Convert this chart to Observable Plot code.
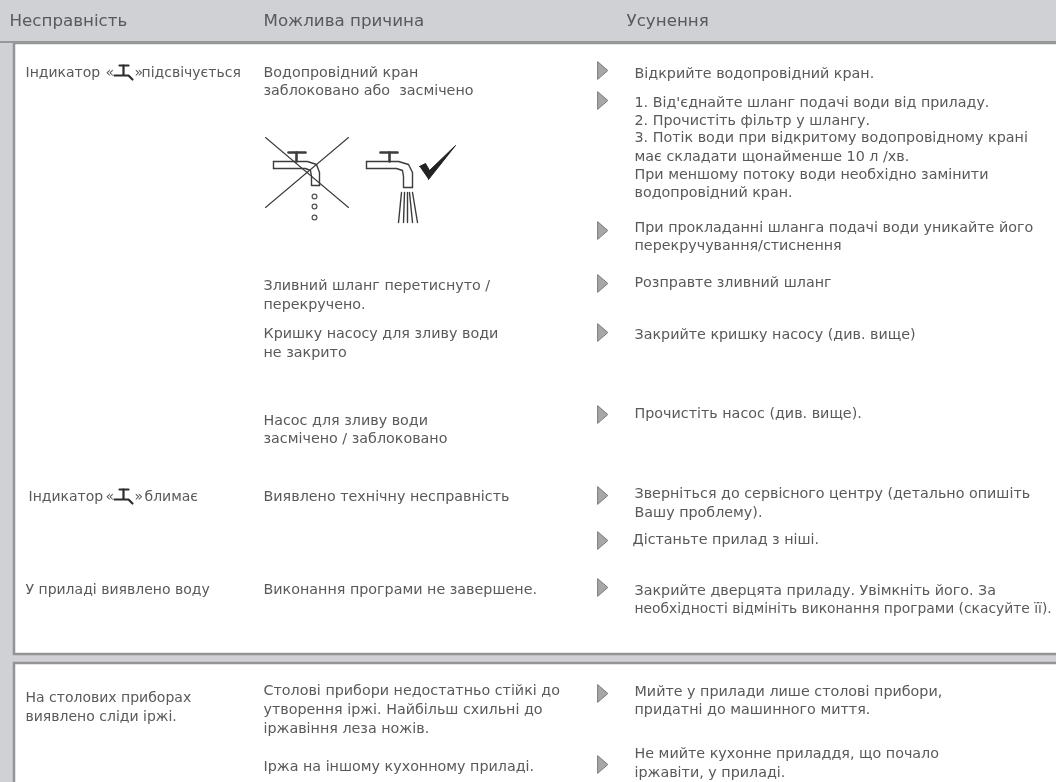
<!DOCTYPE html>
<html><head><meta charset="utf-8">
<script src="https://cdn.jsdelivr.net/npm/d3@7"></script>
<script src="https://cdn.jsdelivr.net/npm/@observablehq/plot@0.6"></script>
<style>html,body{margin:0;padding:0;background:#cfd1d4;overflow:hidden}svg{display:block}</style>
</head><body><div id="chart"></div>
<script>
const headers = ["Несправність", "Можлива причина", "Усунення"];
const faults = ["Індикатор", "«", "»", "підсвічується", "Індикатор", "«", "»", "блимає", "У приладі виявлено воду", "На столових приборах", "виявлено сліди іржі."];
const causes = ["Водопровідний кран", "заблоковано або  засмічено", "Зливний шланг перетиснуто /", "перекручено.", "Кришку насосу для зливу води", "не закрито", "Насос для зливу води", "засмічено / заблоковано", "Виявлено технічну несправність", "Виконання програми не завершене.", "Столові прибори недостатньо стійкі до", "утворення іржі. Найбільш схильні до", "іржавіння леза ножів.", "Іржа на іншому кухонному приладі."];
const fixes = ["Відкрийте водопровідний кран.", "1. Від'єднайте шланг подачі води від приладу.", "2. Прочистіть фільтр у шлангу.", "3. Потік води при відкритому водопровідному крані", "має складати щонайменше 10 л /хв.", "При меншому потоку води необхідно замінити", "водопровідний кран.", "При прокладанні шланга подачі води уникайте його", "перекручування/стиснення", "Розправте зливний шланг", "Закрийте кришку насосу (див. вище)", "Прочистіть насос (див. вище).", "Зверніться до сервісного центру (детально опишіть", "Вашу проблему).", "Дістаньте прилад з ніші.", "Закрийте дверцята приладу. Увімкніть його. За", "необхідності відмініть виконання програми (скасуйте її).", "Мийте у прилади лише столові прибори,", "придатні до машинного миття.", "Не мийте кухонне приладдя, що почало", "іржавіти, у приладі."];

// layout (page units)
const headerX = [9, 263, 626], headerY = 20;
const faultPos = [[25,72],[105,72],[134,72],[141,72],[28,496],[105,496],[134,496],[144,496],[25,589],[25,697],[25,716]];
const causeY = [72,90,285,304,333,352,420,438,496,589,690,709,728,766];
const fixY = [73,102,120,137,156,174,192,227,245,282,334,413,493,512,539,590,608,691,709,753,772];
const fixX = fixY.map((y)=> y===539 ? 632 : 634);
const fixSize = fixY.map((y)=> y===608 ? 13.85 : 14.3);
const arrowY = [70,100,230,283,332,414,495,540,587,693,764];
const panels = [[14,1070,43,654],[14,1070,663,800]];

const rows = (texts, x, ys, s) => texts.map((t,i)=>({t,x:Array.isArray(x)?x[i]:x,y:ys[i],s:s?s[i]:14.3}));
const faultRows = faults.map((t,i)=>({t,x:faultPos[i][0],y:faultPos[i][1],s:14}));
const arrows = arrowY.map(y=>({x:602,y}));

const tri = {draw(c,s){const r=Math.sqrt(s);c.moveTo(-r*0.55,-r);c.lineTo(r*0.6,0);c.lineTo(-r*0.55,r);c.closePath();}};

const seg = (id,pts)=>pts.map(([x,y])=>({id,x,y}));
const xLines = [...seg("x1",[[265,137],[348,207]]), ...seg("x2",[[265,207],[348,137]])];
const tapThin = [
  ...seg("b1",[[273,161],[307,161],[316,164],[319,172],[319,185]]),
  ...seg("b2",[[273,168],[305,168],[310,170],[311,176],[311,185],[319,185]]),
  ...seg("b3",[[273,161],[273,168]]),
  ...seg("c1",[[366,161],[398,161],[408,164],[412,172],[412,187]]),
  ...seg("c2",[[366,168],[396,168],[402,170],[403,176],[403,187],[412,187]]),
  ...seg("c3",[[366,161],[366,168]]),
  ...seg("s1",[[401,192],[398,222]]), ...seg("s2",[[404,192],[403,222]]),
  ...seg("s3",[[407,192],[407,222]]), ...seg("s4",[[409,192],[412,222]]),
  ...seg("s5",[[412,192],[417,222]])
];
const tapThick = [
  ...seg("h1",[[288,152],[305,152]]), ...seg("h2",[[296,152],[296,161]]),
  ...seg("h3",[[380,152],[397,152]]), ...seg("h4",[[389,152],[389,161]])
];
const smallTaps = [
  ...seg("m1",[[119,65],[128,65]]), ...seg("m2",[[123,65],[123,74]]),
  ...seg("m3",[[114,75],[128,75],[132,79]]),
  ...seg("m4",[[119,489],[128,489]]), ...seg("m5",[[123,489],[123,498]]),
  ...seg("m6",[[114,499],[128,499],[132,503]])
];
const drops = [[314,196],[314,206],[314,217]].map(([x,y])=>({x,y}));
const check = [[419,166],[425,163],[429,170],[455,145],[428,179]].map(([x,y])=>({x,y}));

const textOpts = {x:"x", y:"y", text:"t", fontSize:"s", textAnchor:"start", lineAnchor:"middle", fill:"#58595b", fontFamily:"'DejaVu Sans'"};

const plot = Plot.plot({
  width:1056, height:782, margin:0,
  x:{domain:[0,1056], range:[0,1056], axis:null},
  y:{domain:[0,782], range:[0,782], axis:null},
  style:{background:"#cfd1d4", filter:"blur(0.6px)"},
  marks:[
    Plot.rect(panels.map(([a,b,c,d])=>({a,b,c,d})), {x1:"a",x2:"b",y1:"c",y2:"d",fill:"#fff",stroke:"#929497",strokeWidth:2.5}),
    Plot.ruleY([41.5],{x1:0,x2:1056,stroke:"#96989b",strokeWidth:2}),
    Plot.text(headers.map((t,i)=>({t,x:headerX[i],y:headerY,s:16.7})), textOpts),
    Plot.text(faultRows, textOpts),
    Plot.text(rows(causes,263,causeY), textOpts),
    Plot.text(rows(fixes,fixX,fixY,fixSize), textOpts),
    Plot.dot(arrows,{x:"x",y:"y",symbol:tri,r:5,fill:"#a5a7a9",stroke:"#77797b",strokeWidth:1}),
    Plot.line(xLines,{x:"x",y:"y",z:"id",stroke:"#3c3c3e",strokeWidth:1.1}),
    Plot.line(tapThin,{x:"x",y:"y",z:"id",stroke:"#3c3c3e",strokeWidth:1.4,strokeLinejoin:"round"}),
    Plot.line(tapThick,{x:"x",y:"y",z:"id",stroke:"#3c3c3e",strokeWidth:2.6}),
    Plot.line(smallTaps,{x:"x",y:"y",z:"id",stroke:"#2c2c2e",strokeWidth:2.2}),
    Plot.dot(drops,{x:"x",y:"y",r:2.4,stroke:"#555",strokeWidth:1.2}),
    Plot.line(check,{x:"x",y:"y",stroke:"#222",fill:"#222",strokeWidth:1})
  ]
});
document.getElementById("chart").appendChild(plot);
</script></body></html>
